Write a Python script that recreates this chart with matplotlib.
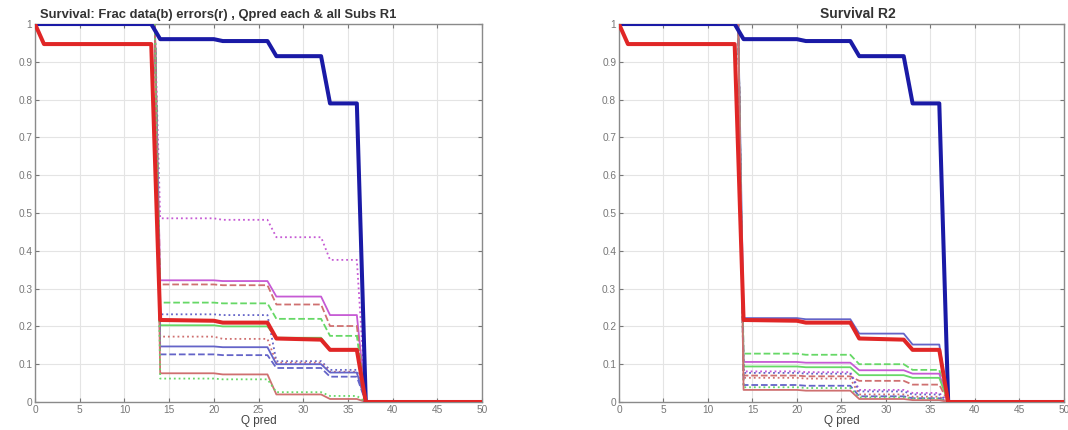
import matplotlib
matplotlib.use("Agg")
import matplotlib.pyplot as plt

plt.rcParams['font.family'] = ['Liberation Sans', 'DejaVu Sans']

# common Q breakpoints
Q = [0, 1, 13, 14, 20, 21, 26, 27, 32, 33, 36, 37, 50]

# data (blue) and errors (red), same for R1 and R2
data_surv = [1, 1, 1, 0.96, 0.96, 0.955, 0.955, 0.915, 0.915, 0.79, 0.79, 0, 0]
err_surv = [1, 0.947, 0.947, 0.217, 0.215, 0.21, 0.21, 0.168, 0.165, 0.138, 0.138, 0, 0]

# subject curves: levels at Q = 14, 20, 21, 26, 27, 32, 33, 36  (1 before, 0 after)
SQ = [0, 13.4, 14, 20, 21, 26, 27, 32, 33, 36, 37, 50]

subj_colors = {'m': '#c65ad4', 'g': '#66d866', 'b': '#6464c8', 'r': '#cf7070'}

r1_names = ['m:', 'm-', 'r--', 'g--', 'b:', 'g-', 'r:', 'b-', 'b--', 'r-', 'g:']
r1_levels = [
    [0.486, 0.486, 0.482, 0.482, 0.436, 0.436, 0.376, 0.376],
    [0.322, 0.322, 0.320, 0.320, 0.279, 0.279, 0.230, 0.230],
    [0.311, 0.311, 0.309, 0.309, 0.258, 0.258, 0.201, 0.201],
    [0.263, 0.263, 0.261, 0.261, 0.220, 0.220, 0.175, 0.175],
    [0.232, 0.232, 0.230, 0.230, 0.108, 0.108, 0.085, 0.085],
    [0.203, 0.203, 0.200, 0.200, 0.170, 0.170, 0.140, 0.140],
    [0.173, 0.173, 0.167, 0.167, 0.104, 0.104, 0.080, 0.080],
    [0.147, 0.147, 0.145, 0.145, 0.100, 0.100, 0.078, 0.078],
    [0.126, 0.126, 0.124, 0.124, 0.090, 0.090, 0.067, 0.067],
    [0.076, 0.076, 0.073, 0.073, 0.020, 0.020, 0.008, 0.008],
    [0.062, 0.062, 0.060, 0.060, 0.026, 0.026, 0.016, 0.016],
]

r2_names = ['b-', 'g--', 'm-', 'g-', 'r--', 'm:', 'b:', 'r:', 'b--', 'g:', 'r-']
r2_levels = [
    [0.222, 0.222, 0.219, 0.219, 0.181, 0.181, 0.152, 0.152],
    [0.128, 0.128, 0.125, 0.125, 0.100, 0.100, 0.085, 0.085],
    [0.106, 0.106, 0.104, 0.104, 0.084, 0.084, 0.075, 0.075],
    [0.094, 0.094, 0.092, 0.092, 0.071, 0.071, 0.064, 0.064],
    [0.070, 0.070, 0.068, 0.068, 0.056, 0.056, 0.046, 0.046],
    [0.081, 0.081, 0.079, 0.079, 0.032, 0.032, 0.024, 0.024],
    [0.077, 0.077, 0.075, 0.075, 0.028, 0.028, 0.020, 0.020],
    [0.064, 0.064, 0.062, 0.062, 0.020, 0.020, 0.014, 0.014],
    [0.045, 0.045, 0.043, 0.043, 0.015, 0.015, 0.010, 0.010],
    [0.039, 0.039, 0.037, 0.037, 0.012, 0.012, 0.009, 0.009],
    [0.032, 0.032, 0.030, 0.030, 0.008, 0.008, 0.005, 0.005],
]

titles = ['Survival: Frac data(b) errors(r) , Qpred each & all Subs R1', 'Survival R2']
title_x = [0.41, 0.536]
title_size = [9.4, 10]

fig = plt.figure(figsize=(10.68, 4.30), dpi=100)
ax1 = fig.add_axes([0.0328, 0.0651, 0.4185, 0.879])
ax2 = fig.add_axes([0.5796, 0.0651, 0.4165, 0.879])

for i, (ax, names, levels) in enumerate([(ax1, r1_names, r1_levels),
                                         (ax2, r2_names, r2_levels)]):
    for nm, lv in zip(names, levels):
        col = subj_colors[nm[0]]
        ls = nm[1:]
        ax.plot(SQ, [1, 1] + lv + [0, 0], color=col, ls=ls, lw=1.3, zorder=3)
    ax.plot(Q, data_surv, color='#1a1aa6', lw=2.9, zorder=5)
    ax.plot(Q, err_surv, color='#e02626', lw=2.9, zorder=6)
    ax.set_xlim(0, 50)
    ax.set_ylim(0, 1)
    ax.set_xticks(range(0, 51, 5))
    ax.set_yticks([k / 10 for k in range(11)])
    ax.set_yticklabels(['0', '0.1', '0.2', '0.3', '0.4', '0.5', '0.6', '0.7', '0.8', '0.9', '1'])
    ax.grid(True, color='#e4e4e4', lw=0.8)
    ax.set_axisbelow(True)
    ax.tick_params(direction='in', length=3, width=0.8, top=True, right=True,
                   labelsize=7.3, colors='#777777', pad=2)
    for sp in ax.spines.values():
        sp.set_color('#8a8a8a')
        sp.set_linewidth(1.0)
    ax.set_xlabel('Q pred', fontsize=8.5, color='#444444', labelpad=0)
    ax.set_title(titles[i], fontsize=title_size[i], fontweight='bold', color='#333333',
                 pad=4, x=title_x[i])

fig.savefig('out.png', dpi=100)
